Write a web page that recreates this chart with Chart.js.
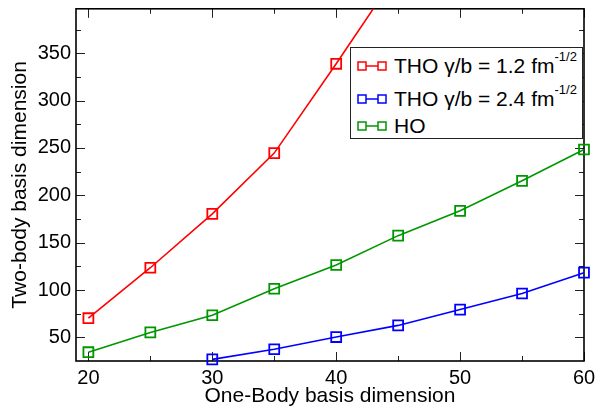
<!DOCTYPE html>
<html>
<head>
<meta charset="utf-8">
<script src="https://cdn.jsdelivr.net/npm/chart.js@4/dist/chart.umd.min.js"></script>
<style>
  html, body { margin: 0; padding: 0; background: #fff; }
  #wrap { position: relative; width: 595px; height: 411px; }
  #legend {
    position: absolute; left: 350px; top: 47px; width: 231px; height: 90px;
    border: 1.5px solid #222; background: #fff;
    font-family: "Liberation Sans", Arial, sans-serif; font-size: 21px; color: #000;
  }
  .row { position: absolute; left: 6px; height: 24px; line-height: 24px; white-space: nowrap; }
  .row svg { position: absolute; left: 0; top: 7px; }
  .row span { position: absolute; left: 37px; top: 0; }
  .row sup { font-size: 13px; position: relative; top: -4px; vertical-align: top; line-height: 13px; }
</style>
</head>
<body>
<div id="wrap">
  <canvas id="chart" width="595" height="411"></canvas>
  <div id="legend"></div>
</div>
<script>
// one-body basis dimension (x)
const oneBody = [20, 25, 30, 35, 40, 45, 50, 55, 60];
// two-body basis dimension for each basis
const thoNarrow = [70.2, 123.5, 180.4, 244.6, 338.9, 436, null, null, null];
const thoWide = [null, null, 26.7, 37.4, 50.3, 62.6, 79.3, 96.3, 118.3];
const hoBasis = [34.3, 55.2, 73.3, 101.3, 126.4, 157.4, 183.6, 215.3, 248.4];

const xTicks = [20, 30, 40, 50, 60];
const xMinor = [25, 35, 45, 55];
const yTicks = [50, 100, 150, 200, 250, 300, 350];
const yMinor = [75, 125, 175, 225, 275, 325, 375];

const seriesNames = ["THO \u03b3/b = 1.2 fm", "THO \u03b3/b = 2.4 fm", "HO"];
const seriesSup = ["-1/2", "-1/2", ""];
const seriesColors = ["#ff0000", "#0000ff", "#009600"];

const toPoints = (vals) =>
    oneBody.map((x, i) => ({ x: x, y: vals[i] })).filter((p) => p.y !== null);

const makeSet = (label, vals, color, clip) => ({
    label: label,
    data: toPoints(vals),
    borderColor: color,
    borderWidth: 1.6,
    pointStyle: "rect",
    pointRadius: 7,
    pointHoverRadius: 7,
    pointBorderColor: color,
    pointBorderWidth: 1.8,
    pointBackgroundColor: "rgba(0,0,0,0)",
    tension: 0,
    clip: clip,
});

// box around plot + inward ticks on every side
const frameTicks = {
    id: "frameTicks",
    beforeDatasetsDraw(chart) {
        const { ctx, chartArea: a, scales } = chart;
        const x = scales.x, y = scales.y;
        ctx.save();
        ctx.strokeStyle = "#222";
        ctx.lineWidth = 1;
        const tick = (x1, y1, x2, y2) => {
            ctx.beginPath();
            ctx.moveTo(x1, y1);
            ctx.lineTo(x2, y2);
            ctx.stroke();
        };
        const doX = (vals, len) => vals.forEach((v) => {
            const px = Math.round(x.getPixelForValue(v)) + 0.5;
            tick(px, a.bottom, px, a.bottom - len);
            tick(px, a.top, px, a.top + len);
        });
        const doY = (vals, len) => vals.forEach((v) => {
            const py = Math.round(y.getPixelForValue(v)) + 0.5;
            tick(a.left, py, a.left + len, py);
            tick(a.right, py, a.right - len, py);
        });
        doX(xTicks, 9);
        doX(xMinor, 5);
        doY(yTicks, 9);
        doY(yMinor, 5);
        ctx.lineWidth = 1.6;
        ctx.strokeStyle = "#000";
        ctx.strokeRect(a.left, a.top, a.right - a.left, a.bottom - a.top);
        ctx.restore();
    },
};

new Chart(document.getElementById("chart"), {
    type: "line",
    data: {
        datasets: [
            makeSet(seriesNames[0], thoNarrow, seriesColors[0], true),
            makeSet(seriesNames[1], thoWide, seriesColors[1], false),
            makeSet(seriesNames[2], hoBasis, seriesColors[2], false),
        ],
    },
    options: {
        responsive: false,
        animation: false,
        events: [],
        layout: { padding: { top: 5, right: 11, left: 0, bottom: 0 } },
        plugins: { legend: { display: false }, tooltip: { enabled: false } },
        scales: {
            x: {
                type: "linear",
                min: 19,
                max: 60,
                afterBuildTicks: (s) => { s.ticks = xTicks.map((v) => ({ value: v })); },
                afterFit: (s) => {
                    s.height = 50;
                    s.paddingLeft = 0;
                    s.paddingRight = 0;
                },
                grid: { display: false, drawTicks: false },
                border: { display: false },
                ticks: {
                    color: "#000",
                    padding: 5,
                    maxRotation: 0,
                    font: { family: "'Liberation Sans', Arial, sans-serif", size: 20 },
                },
                title: {
                    display: true,
                    text: "One-Body basis dimension",
                    color: "#000",
                    padding: { top: 0, bottom: 2 },
                    font: { family: "'Liberation Sans', Arial, sans-serif", size: 21 },
                },
            },
            y: {
                min: 25,
                max: 397,
                afterBuildTicks: (s) => { s.ticks = yTicks.map((v) => ({ value: v })); },
                afterFit: (s) => {
                    s.width = 76;
                    s.paddingTop = 0;
                    s.paddingBottom = 0;
                },
                grid: { display: false, drawTicks: false },
                border: { display: false },
                ticks: {
                    color: "#000",
                    padding: 5,
                    font: { family: "'Liberation Sans', Arial, sans-serif", size: 20 },
                },
                title: {
                    display: true,
                    text: "Two-body basis dimension",
                    color: "#000",
                    padding: { top: 8, bottom: 0 },
                    font: { family: "'Liberation Sans', Arial, sans-serif", size: 21 },
                },
            },
        },
    },
    plugins: [frameTicks],
});

// legend with superscripts, as html
const legendEl = document.getElementById("legend");
const rowTops = [6, 39, 66];
seriesNames.forEach((name, i) => {
    const c = seriesColors[i];
    const row = document.createElement("div");
    row.className = "row";
    row.style.top = rowTops[i] + "px";
    row.innerHTML =
        '<svg width="31" height="10">' +
        '<rect x="1" y="1" width="8" height="8" fill="none" stroke="' + c + '" stroke-width="1.5"/>' +
        '<line x1="9" y1="5" x2="21" y2="5" stroke="' + c + '" stroke-width="1.5"/>' +
        '<rect x="21" y="1" width="8" height="8" fill="none" stroke="' + c + '" stroke-width="1.5"/>' +
        "</svg><span>" + name + (seriesSup[i] ? "<sup>" + seriesSup[i] + "</sup>" : "") + "</span>";
    legendEl.appendChild(row);
});
</script>
</body>
</html>
